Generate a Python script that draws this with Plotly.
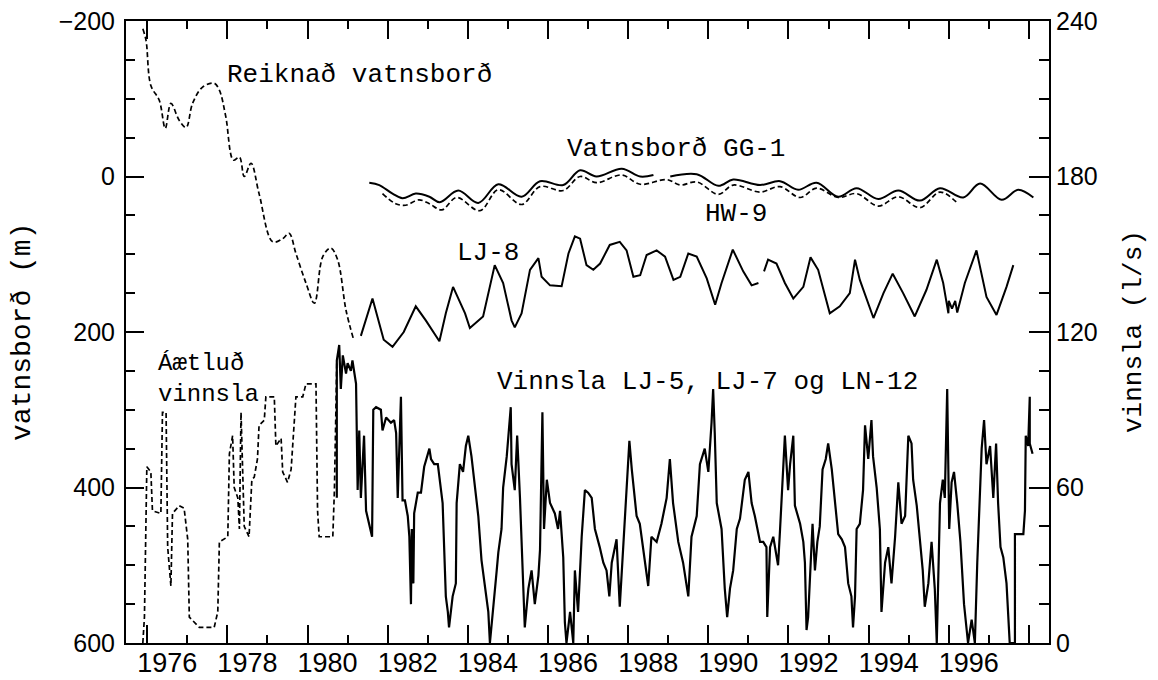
import plotly.graph_objects as go

# ---------------- data ----------------
reik_year = [1975.89, 1975.97, 1976.09, 1976.30, 1976.45, 1976.59, 1976.80, 1976.97, 1977.13,
             1977.38, 1977.67, 1977.80, 1977.96, 1978.15, 1978.30, 1978.42, 1978.59, 1978.79,
             1979.13, 1979.38, 1979.54, 1979.71, 1979.96, 1980.17, 1980.38, 1980.58, 1980.75,
             1980.96, 1981.14]
reik_level = [-190, -175, -117, -98, -62, -94, -72, -63, -94,
              -115, -120, -111, -77, -21, -25, 0, -17, 22,
              84, 80, 73, 99, 137, 163, 103, 92, 107,
              172, 208]

gg1_year = [1981.54, 1981.79, 1982.12, 1982.37, 1982.70, 1983.04, 1983.30, 1983.76, 1984.26,
            1984.76, 1985.34, 1985.80, 1986.38, 1986.80, 1987.21, 1987.84, 1988.30, 1988.63,
            1988.80, 1989.05, 1989.71, 1990.25, 1990.62, 1991.29, 1991.79, 1992.24, 1992.70,
            1993.24, 1993.70, 1994.24, 1994.74, 1995.28, 1995.78, 1996.36, 1996.78, 1997.32,
            1997.73, 1998.11]
gg1_level = [8, 11, 22, 28, 22, 26, 33, 18, 34,
             10, 26, 6, 11, -8, 0, -10, 0, -2,
             None, 0, -3, 12, 4, 11, 6, 17, 8,
             26, 15, 29, 18, 31, 15, 27, 9, 30,
             17, 27]

hw9_year = [1981.87, 1982.20, 1982.45, 1982.78, 1983.04, 1983.35, 1983.72, 1984.30, 1984.76,
            1985.34, 1985.80, 1986.38, 1986.80, 1987.21, 1987.84, 1988.30, 1988.96, 1989.30,
            1989.71, 1990.25, 1990.62, 1991.29, 1991.79, 1992.29, 1992.70, 1993.24, 1993.70,
            1994.24, 1994.74, 1995.28, 1995.78, 1996.19]
hw9_level = [22, 35, 37, 30, 35, 43, 27, 44, 17,
             36, 13, 18, 0, 8, -2, 10, 4, 11,
             7, 23, 11, 20, 13, 27, 15, 27, 22,
             38, 26, 40, 20, 33]

lj8_year = [1981.33, 1981.62, 1981.90, 1982.12, 1982.40, 1982.70, 1982.95, 1983.20, 1983.29,
            1983.45, 1983.63, 1983.93, 1984.05, 1984.38, 1984.67, 1984.88, 1985.09, 1985.17,
            1985.34, 1985.55, 1985.76, 1985.84, 1986.05, 1986.34, 1986.51, 1986.67, 1986.80,
            1986.96, 1987.13, 1987.30, 1987.54, 1987.79, 1987.96, 1988.13, 1988.30, 1988.46,
            1988.71, 1988.92, 1989.13, 1989.30, 1989.50, 1989.71, 1989.96, 1990.17, 1990.33,
            1990.61, 1990.87, 1991.08, 1991.25, 1991.32, 1991.39, 1991.49, 1991.70, 1991.91,
            1992.12, 1992.37, 1992.55, 1992.74, 1993.03, 1993.28, 1993.53, 1993.66, 1993.78,
            1994.12, 1994.37, 1994.60, 1994.86, 1995.15, 1995.44, 1995.70, 1995.86, 1995.99,
            1996.00, 1996.08, 1996.16, 1996.21, 1996.40, 1996.69, 1996.94, 1997.19, 1997.44,
            1997.61]
lj8_level = [205, 157, 210, 219, 200, 167, 185, 206, 212,
             176, 142, 176, 195, 180, 114, 137, 185, 194,
             176, 120, 105, 129, 140, 141, 99, 77, 80,
             114, 120, 112, 88, 84, 95, 129, 127, 101,
             95, 103, 133, 129, 99, 103, 131, 165, 137,
             94, 122, 140, 137, None, 122, 107, 112, 137,
             157, 142, 104, 120, 176, 167, 150, 107, 133,
             182, 150, 125, 150, 180, 146, 107, 137, 176,
             160, 170, 160, 175, 137, 95, 155, 178, 142,
             114]

est_year = [1975.89, 1975.93, 1975.99, 1976.09, 1976.13, 1976.34, 1976.38, 1976.47, 1976.51,
            1976.59, 1976.63, 1976.80, 1976.92, 1977.01, 1977.05, 1977.30, 1977.38, 1977.67,
            1977.76, 1977.80, 1978.01, 1978.05, 1978.13, 1978.17, 1978.26, 1978.30, 1978.34,
            1978.42, 1978.54, 1978.61, 1978.67, 1978.75, 1978.79, 1978.92, 1978.96, 1979.17,
            1979.21, 1979.34, 1979.38, 1979.50, 1979.59, 1979.67, 1979.71, 1979.88, 1979.96,
            1980.21, 1980.25, 1980.29, 1980.63, 1980.67, 1980.73]
est_flow = [0, 10, 68, 66, 51, 50, 89, 89, 37,
            22, 50, 53, 52, 40, 10, 6, 6, 6,
            12, 39, 41, 73, 80, 60, 56, 44, 89,
            45, 41, 63, 64, 71, 84, 86, 95, 95,
            76, 79, 66, 62, 67, 86, 95, 95, 100,
            100, 51, 41, 41, 59, 109]

prod_year = [1980.73, 1980.73, 1980.79, 1980.83, 1980.88, 1980.96, 1981.00, 1981.08, 1981.12,
             1981.21, 1981.25, 1981.29, 1981.33, 1981.41, 1981.46, 1981.54, 1981.61, 1981.64,
             1981.71, 1981.83, 1981.87, 1981.96, 1982.08, 1982.16, 1982.21, 1982.25, 1982.33,
             1982.37, 1982.43, 1982.50, 1982.54, 1982.58, 1982.60, 1982.64, 1982.66, 1982.75,
             1982.83, 1982.91, 1983.04, 1983.08, 1983.16, 1983.25, 1983.33, 1983.37, 1983.45,
             1983.50, 1983.53, 1983.62, 1983.70, 1983.72, 1983.80, 1983.88, 1983.95, 1984.01,
             1984.09, 1984.18, 1984.26, 1984.34, 1984.43, 1984.51, 1984.55, 1984.63, 1984.72,
             1984.76, 1984.84, 1984.88, 1984.97, 1985.07, 1985.09, 1985.17, 1985.23, 1985.30,
             1985.38, 1985.42, 1985.51, 1985.59, 1985.67, 1985.76, 1985.80, 1985.86, 1985.90,
             1985.97, 1986.05, 1986.17, 1986.25, 1986.30, 1986.38, 1986.42, 1986.46, 1986.55,
             1986.63, 1986.67, 1986.75, 1986.84, 1986.92, 1987.00, 1987.09, 1987.17, 1987.29,
             1987.38, 1987.46, 1987.53, 1987.59, 1987.71, 1987.79, 1987.88, 1987.96, 1988.03,
             1988.09, 1988.21, 1988.29, 1988.42, 1988.50, 1988.58, 1988.71, 1988.83, 1988.96,
             1989.04, 1989.12, 1989.25, 1989.37, 1989.50, 1989.58, 1989.71, 1989.79, 1989.91,
             1990.00, 1990.08, 1990.12, 1990.16, 1990.21, 1990.33, 1990.41, 1990.47, 1990.54,
             1990.62, 1990.71, 1990.79, 1990.91, 1991.00, 1991.08, 1991.16, 1991.29, 1991.37,
             1991.45, 1991.47, 1991.54, 1991.62, 1991.74, 1991.79, 1991.85, 1991.91, 1991.99,
             1992.04, 1992.12, 1992.16, 1992.29, 1992.37, 1992.41, 1992.45, 1992.49, 1992.55,
             1992.60, 1992.66, 1992.72, 1992.78, 1992.85, 1992.93, 1992.99, 1993.08, 1993.16,
             1993.24, 1993.33, 1993.41, 1993.49, 1993.57, 1993.61, 1993.66, 1993.70, 1993.78,
             1993.86, 1993.91, 1993.99, 1994.07, 1994.11, 1994.20, 1994.28, 1994.32, 1994.41,
             1994.49, 1994.57, 1994.66, 1994.74, 1994.82, 1994.91, 1994.99, 1995.07, 1995.11,
             1995.20, 1995.28, 1995.35, 1995.40, 1995.49, 1995.57, 1995.65, 1995.70, 1995.78,
             1995.85, 1995.90, 1995.96, 1996.01, 1996.07, 1996.13, 1996.21, 1996.29, 1996.38,
             1996.48, 1996.57, 1996.65, 1996.71, 1996.78, 1996.82, 1996.88, 1996.94, 1997.03,
             1997.11, 1997.18, 1997.23, 1997.29, 1997.36, 1997.44, 1997.48, 1997.52, 1997.61,
             1997.65, 1997.65, 1997.86, 1997.90, 1997.92, 1997.98, 1998.02, 1998.02, 1998.09]
prod_flow = [56, 109, 115, 98, 111, 104, 108, 105, 109,
             100, 59, 82, 56, 80, 51, 46, 41, 90,
             91, 90, 82, 87, 85, 86, 81, 56, 95,
             55, 55, 49, 41, 15, 44, 23, 50, 58,
             58, 68, 75, 71, 69, 69, 58, 54, 18,
             12, 6, 18, 23, 54, 69, 66, 76, 80,
             72, 59, 49, 32, 21, 12, 0, 12, 28,
             35, 44, 60, 72, 91, 69, 59, 80, 56,
             26, 6, 21, 28, 15, 26, 36, 89, 44,
             63, 54, 50, 44, 51, 33, 8, 0, 12,
             0, 28, 12, 41, 59, 58, 56, 44, 37,
             31, 28, 18, 31, 40, 14, 37, 58, 78,
             67, 49, 46, 31, 22, 41, 39, 46, 56,
             71, 54, 39, 31, 18, 41, 49, 69, 75,
             66, 85, 98, 81, 54, 44, 21, 10, 21,
             28, 44, 48, 63, 66, 54, 49, 39, 39,
             37, 10, 37, 41, 30, 44, 63, 80, 59,
             69, 80, 53, 46, 39, 31, 5, 10, 32,
             46, 28, 39, 45, 67, 71, 77, 67, 55,
             42, 40, 37, 23, 18, 6, 18, 44, 46,
             59, 84, 71, 86, 72, 60, 44, 12, 31,
             37, 23, 41, 62, 46, 49, 80, 77, 63,
             53, 40, 28, 14, 23, 39, 21, 0, 54,
             63, 56, 98, 44, 62, 66, 54, 39, 15,
             0, 9, 0, 31, 59, 75, 86, 69, 76,
             56, 77, 54, 37, 33, 23, 8, 0, 0,
             0, 42, 42, 51, 80, 76, 95, 77, 73]

x_tickvals = [1976, 1978, 1980, 1982, 1984, 1986, 1988, 1990, 1992, 1994, 1996, 1998]
x_ticktext = ["1976", "1978", "1980", "1982", "1984", "1986", "1988", "1990", "1992", "1994", "1996", ""]
left_ticks = [-200, 0, 200, 400, 600]
right_ticks = [0, 60, 120, 180, 240]

# ---------------- figure ----------------
MONO = "Liberation Mono"
SANS = "Liberation Sans"
DASH = "5px,3px"

fig = go.Figure()
fig.add_trace(go.Scatter(x=reik_year, y=reik_level, mode="lines", line_shape="spline",
                         line=dict(color="black", width=1.7, dash=DASH), yaxis="y"))
fig.add_trace(go.Scatter(x=gg1_year, y=gg1_level, mode="lines", line_shape="spline",
                         line=dict(color="black", width=2), connectgaps=False, yaxis="y"))
fig.add_trace(go.Scatter(x=hw9_year, y=hw9_level, mode="lines", line_shape="spline",
                         line=dict(color="black", width=1.7, dash=DASH), yaxis="y"))
fig.add_trace(go.Scatter(x=lj8_year, y=lj8_level, mode="lines",
                         line=dict(color="black", width=2), connectgaps=False, yaxis="y"))
fig.add_trace(go.Scatter(x=est_year, y=est_flow, mode="lines",
                         line=dict(color="black", width=1.7, dash=DASH), yaxis="y2"))
fig.add_trace(go.Scatter(x=prod_year, y=prod_flow, mode="lines",
                         line=dict(color="black", width=2.2), yaxis="y2"))

ann = dict(font=dict(family=MONO, size=26, color="black"), showarrow=False,
           xref="x", yref="y", xanchor="left", yanchor="middle")
labels = [
    ("Reiknað vatnsborð", 1977.94, -131),
    ("Vatnsborð GG-1", 1986.42, -35),
    ("HW-9", 1989.87, 48),
    ("LJ-8", 1983.68, 98),
    ("Vinnsla LJ-5, LJ-7 og LN-12", 1984.68, 264),
]
for text, xv, yv in labels:
    fig.add_annotation(text=text, x=xv, y=yv, **ann)
fig.add_annotation(text="Áætluð<br>vinnsla", x=1976.22, y=260, align="left",
                   **dict(ann, font=dict(family=MONO, size=24, color="black")))

fig.add_annotation(text="vatnsborð (m)", xref="paper", yref="paper", x=0, y=0.5,
                   xanchor="center", yanchor="middle",
                   xshift=-104, textangle=-90, showarrow=False,
                   font=dict(family=MONO, size=28, color="black"))
fig.add_annotation(text="vinnsla (l/s)", xref="paper", yref="paper", x=1, y=0.5,
                   xanchor="center", yanchor="middle",
                   xshift=85, textangle=-90, showarrow=False,
                   font=dict(family=MONO, size=26, color="black"))

# page body has an 8px margin, so the figure is drawn 8px in and 8px down
fig.update_layout(
    width=1150, height=672,
    margin=dict(l=118, r=109, t=13, b=37, autoexpand=False),
    paper_bgcolor="white", plot_bgcolor="white",
    showlegend=False,
    xaxis=dict(range=[1975.47, 1998.5], tickmode="array", tickvals=x_tickvals, ticktext=x_ticktext,
               ticks="inside", ticklen=18, tickwidth=1.5, tickcolor="black",
               minor=dict(ticks="inside", ticklen=8, tickwidth=1.5, dtick=1, tick0=1975, tickcolor="black"),
               showline=True, linewidth=2, linecolor="black", mirror="ticks",
               showgrid=False, zeroline=False, ticklabelshift=20, ticklabelstandoff=-5,
               automargin=False, ticklabeloverflow="allow",
               tickfont=dict(family=SANS, size=27, color="black")),
    yaxis=dict(range=[600, -200], tickmode="array", tickvals=left_ticks,
               ticks="inside", ticklen=18, tickwidth=1.5, tickcolor="black",
               minor=dict(ticks="inside", ticklen=9, tickwidth=1.5, dtick=50, tick0=0, tickcolor="black"),
               showline=True, linewidth=2, linecolor="black",
               showgrid=False, zeroline=False, automargin=False, ticklabelstandoff=4,
               ticklabeloverflow="allow",
               tickfont=dict(family=SANS, size=25, color="black")),
    yaxis2=dict(range=[0, 240], overlaying="y", side="right", tickmode="array", tickvals=right_ticks,
                ticks="inside", ticklen=20, tickwidth=1.5, tickcolor="black",
                minor=dict(ticks="inside", ticklen=10, tickwidth=1.5, dtick=15, tick0=0, tickcolor="black"),
                showline=True, linewidth=2, linecolor="black",
                showgrid=False, zeroline=False, automargin=False, ticklabeloverflow="allow",
                tickfont=dict(family=SANS, size=25, color="black")),
)

fig.write_html("out.html")
